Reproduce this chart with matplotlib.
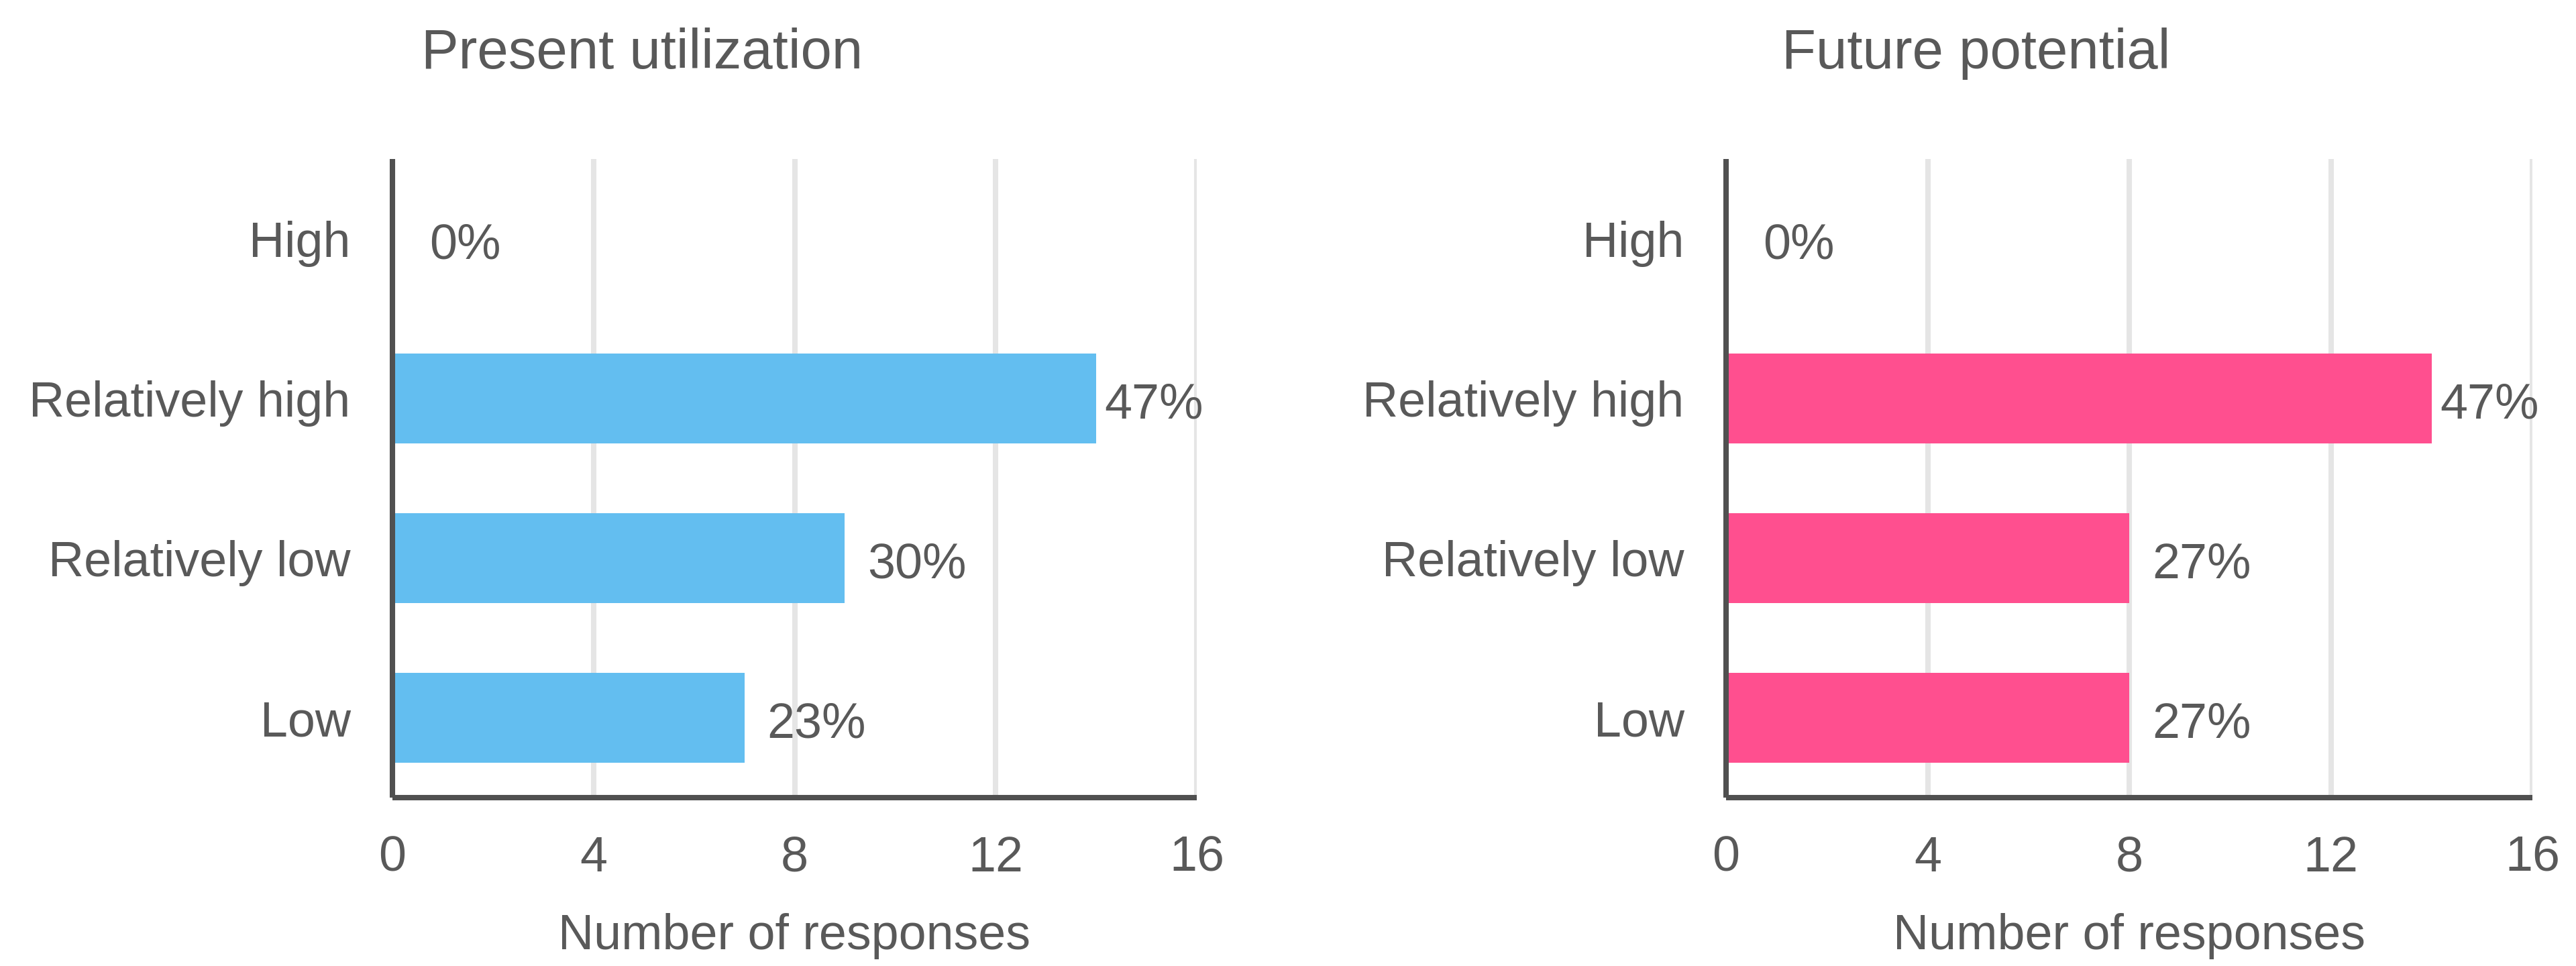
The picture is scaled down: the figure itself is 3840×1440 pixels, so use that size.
import matplotlib
matplotlib.use("Agg")
import matplotlib.pyplot as plt

plt.rcParams['font.family'] = ['Liberation Sans', 'DejaVu Sans']

categories = ["High", "Relatively high", "Relatively low", "Low"]
present_counts = [0, 14, 9, 7]
present_labels = ["0%", "47%", "30%", "23%"]
future_counts = [0, 14, 8, 8]
future_labels = ["0%", "47%", "27%", "27%"]
titles = ["Present utilization", "Future potential"]
xticks = [0, 4, 8, 12, 16]
xlabel = "Number of responses"

TEXT = "#595959"
SPINE = "#505050"
GRID = "#E5E5E5"
colors = ["#63BEF0", "#FF4F8F"]

fig = plt.figure(figsize=(38.4, 14.4), dpi=100)
positions = [
    [585 / 3840, 1 - 1189 / 1440, 1199 / 3840, (1189 - 237) / 1440],
    [2573 / 3840, 1 - 1189 / 1440, 1202 / 3840, (1189 - 237) / 1440],
]

panels = [(present_counts, present_labels), (future_counts, future_labels)]

for i, (counts, labels) in enumerate(panels):
    ax = fig.add_axes(positions[i])
    y = list(range(len(categories)))
    ax.barh(y, counts, height=0.567, color=colors[i], zorder=2)
    ax.set_ylim(len(categories) - 0.5, -0.5)
    ax.set_xlim(0, 16)
    ax.set_xticks(xticks)
    ax.set_xticklabels([str(t) for t in xticks])
    ax.set_yticks(y)
    ax.set_yticklabels(categories)
    ax.tick_params(axis='both', length=0, labelsize=53, colors=TEXT)
    ax.tick_params(axis='y', pad=45)
    ax.tick_params(axis='x', pad=40)
    ax.xaxis.grid(True, color=GRID, linewidth=5.8, zorder=0)
    ax.set_axisbelow(True)
    for s in ["top", "right"]:
        ax.spines[s].set_visible(False)
    for s in ["left", "bottom"]:
        ax.spines[s].set_color(SPINE)
        ax.spines[s].set_linewidth(5.8)
        ax.spines[s].set_capstyle("butt")
        ax.spines[s].set_zorder(3)
    for yi, (v, lab) in enumerate(zip(counts, labels)):
        lx = min(v + 1.44, 15.15)
        ax.text(lx, yi + 0.04, lab, ha='center', va='center', fontsize=53,
                color=TEXT, zorder=4)
    ax.set_xlabel(xlabel, fontsize=53, color=TEXT, labelpad=34)
    ax.text(0.31, 1 + (237 - 80) / 952, titles[i], transform=ax.transAxes,
            ha='center', va='center', fontsize=60, color=TEXT)

fig.savefig("out.png", dpi=100, facecolor="white")
